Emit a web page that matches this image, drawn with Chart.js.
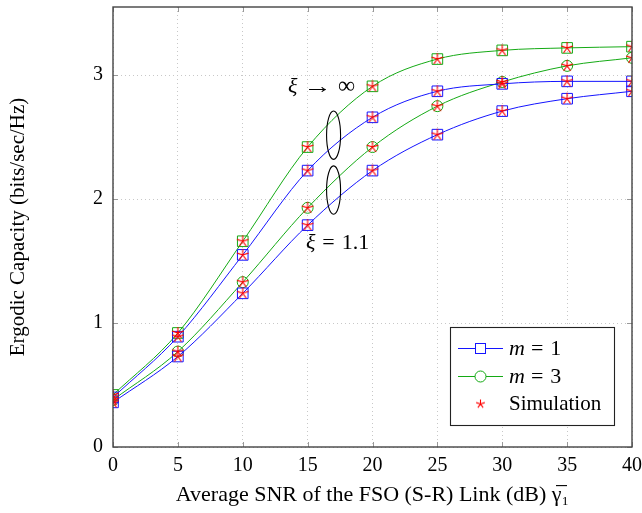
<!DOCTYPE html>
<html>
<head>
<meta charset="utf-8">
<script src="https://cdn.jsdelivr.net/npm/chart.js@4.4.1/dist/chart.umd.min.js"></script>
<style>
    html, body { margin: 0; padding: 0; background: #fff; }
    #wrap { width: 642px; height: 513px; }
</style>
</head>
<body>
<div id="wrap"><canvas id="capChart"></canvas></div>
<script>
// x axis: average SNR of the FSO link (dB)
const snrDb = [0, 5, 10, 15, 20, 25, 30, 35, 40];
const xTicks = [0, 5, 10, 15, 20, 25, 30, 35, 40];
const yTicks = [0, 1, 2, 3];

// analytical curves
const m1XiInf = [0.40, 0.89, 1.55, 2.23, 2.66, 2.87, 2.93, 2.95, 2.95];
const m3XiInf = [0.42, 0.92, 1.66, 2.42, 2.91, 3.13, 3.20, 3.22, 3.23];
const m1Xi11  = [0.36, 0.73, 1.24, 1.79, 2.23, 2.52, 2.71, 2.81, 2.87];
const m3Xi11  = [0.38, 0.77, 1.33, 1.93, 2.42, 2.75, 2.945, 3.075, 3.14];

// simulation points (they sit on top of the analytical markers)
const simM1XiInf = [0.40, 0.89, 1.55, 2.23, 2.66, 2.87, 2.93, 2.95, 2.95];
const simM3XiInf = [0.42, 0.92, 1.66, 2.42, 2.91, 3.13, 3.20, 3.22, 3.23];
const simM1Xi11  = [0.36, 0.73, 1.24, 1.79, 2.23, 2.52, 2.71, 2.81, 2.87];
const simM3Xi11  = [0.38, 0.77, 1.33, 1.93, 2.42, 2.75, 2.945, 3.075, 3.14];

const legendLabels = ['m = 1', 'm = 3', 'Simulation'];

const BLUE = 'rgb(20,20,255)';
const GREEN = 'rgb(20,170,20)';
const RED = 'rgb(255,0,0)';
const SERIF = '"Liberation Serif", "DejaVu Serif", serif';

// pgfplots style "star" mark: 5 spokes
function makeStar(r) {
    const s = Math.ceil(r * 2 + 2);
    const c = document.createElement('canvas');
    c.width = s; c.height = s;
    const g = c.getContext('2d');
    g.strokeStyle = RED;
    g.lineWidth = 1.1;
    g.beginPath();
    for (let k = 0; k < 5; k++) {
        const a = -Math.PI / 2 + k * 2 * Math.PI / 5;
        g.moveTo(s / 2, s / 2);
        g.lineTo(s / 2 + r * Math.cos(a), s / 2 + r * Math.sin(a));
    }
    g.stroke();
    return c;
}
const starImg = makeStar(6);
const starSmall = makeStar(4.5);

const pts = arr => snrDb.map((x, i) => ({ x: x, y: arr[i] }));

function curve(label, arr, color, style, radius) {
    return {
        label: label,
        data: pts(arr),
        showLine: true,
        borderColor: color,
        borderWidth: 1,
        backgroundColor: 'rgba(0,0,0,0)',
        pointStyle: style,
        pointRadius: radius,
        pointBorderColor: color,
        pointBackgroundColor: 'rgba(0,0,0,0)',
        pointBorderWidth: 1,
        cubicInterpolationMode: 'monotone',
        order: 2
    };
}
function sim(arr) {
    return {
        label: 'Simulation',
        data: pts(arr),
        showLine: false,
        pointStyle: starImg,
        pointRadius: 6,
        order: 1
    };
}

// draws pieces of a math-like label left to right with given gaps
function drawPieces(ctx, pieces, x, y) {
    pieces.forEach(p => {
        ctx.font = p.font;
        if (p.sx) {
            // stretch horizontally (long arrow like \to)
            ctx.save();
            ctx.translate(x, y);
            ctx.scale(p.sx, 1);
            ctx.fillText(p.t, 0, 0);
            ctx.restore();
            x += ctx.measureText(p.t).width * p.sx + p.gap;
        } else {
            ctx.fillText(p.t, x, y);
            x += ctx.measureText(p.t).width + p.gap;
        }
    });
}

// frame, inner tick marks, ellipses, text notes and legend box
const decorations = {
    id: 'decorations',
    afterDraw(chart) {
        const ctx = chart.ctx;
        const a = chart.chartArea;
        const xs = chart.scales.x, ys = chart.scales.y;
        ctx.save();

        // inner ticks
        ctx.strokeStyle = '#999';
        ctx.lineWidth = 1;
        ctx.beginPath();
        xTicks.forEach(v => {
            const px = Math.round(xs.getPixelForValue(v)) + 0.5;
            ctx.moveTo(px, a.bottom); ctx.lineTo(px, a.bottom - 5);
            ctx.moveTo(px, a.top); ctx.lineTo(px, a.top + 5);
        });
        yTicks.forEach(v => {
            const py = Math.round(ys.getPixelForValue(v)) + 0.5;
            ctx.moveTo(a.left, py); ctx.lineTo(a.left + 5, py);
            ctx.moveTo(a.right, py); ctx.lineTo(a.right - 5, py);
        });
        ctx.stroke();

        // frame
        ctx.strokeStyle = '#444';
        ctx.lineWidth = 1.4;
        ctx.strokeRect(a.left, a.top, a.right - a.left, a.bottom - a.top);

        // ellipses around the curve pairs
        ctx.strokeStyle = '#000';
        ctx.lineWidth = 1.1;
        const cx = xs.getPixelForValue(17.0);
        const rx = xs.getPixelForValue(17.54) - cx;
        const ry = ys.getPixelForValue(2.3) - ys.getPixelForValue(2.495);
        [2.516, 2.073].forEach(cy => {
            ctx.beginPath();
            ctx.ellipse(cx, ys.getPixelForValue(cy), rx, ry, 0, 0, Math.PI * 2);
            ctx.stroke();
        });

        // notes
        ctx.fillStyle = '#000';
        ctx.textAlign = 'left';
        ctx.textBaseline = 'middle';
        const mathF = 'italic 22px ' + SERIF;
        const romF = '22px ' + SERIF;
        drawPieces(ctx, [
            { t: 'ξ', font: mathF, gap: 6 },
            { t: '→', font: romF, gap: 6, sx: 1.3 },
            { t: '∞', font: '24px ' + SERIF, gap: 0 }
        ], xs.getPixelForValue(13.49), ys.getPixelForValue(2.906));
        drawPieces(ctx, [
            { t: 'ξ', font: mathF, gap: 7 },
            { t: '=', font: romF, gap: 7 },
            { t: '1.1', font: romF, gap: 0 }
        ], xs.getPixelForValue(14.87), ys.getPixelForValue(1.645));

        // legend box
        const bw = 164, bh = 98;
        const bx = a.right - 18 - bw, by = a.bottom - 22 - bh;
        ctx.fillStyle = '#fff';
        ctx.fillRect(bx, by, bw, bh);
        ctx.strokeStyle = '#222';
        ctx.lineWidth = 1.1;
        ctx.strokeRect(bx + 0.5, by + 0.5, bw, bh);

        const rows = [
            { dy: 21, color: BLUE, mark: 'rect' },
            { dy: 49, color: GREEN, mark: 'circle' },
            { dy: 76, color: null, mark: 'star' }
        ];
        const sx = bx + 8, mx = bx + 30, tx = bx + 59;
        rows.forEach((r, i) => {
            const ry0 = by + r.dy;
            if (r.color) {
                ctx.strokeStyle = r.color;
                ctx.lineWidth = 1;
                ctx.beginPath();
                ctx.moveTo(sx, ry0 + 0.5); ctx.lineTo(sx + 45, ry0 + 0.5);
                ctx.stroke();
                if (r.mark === 'rect') {
                    ctx.fillStyle = '#fff';
                    ctx.fillRect(mx - 5, ry0 - 4.5, 10, 10);
                    ctx.strokeRect(mx - 4.5, ry0 - 4.5, 10, 10);
                } else {
                    ctx.fillStyle = '#fff';
                    ctx.beginPath();
                    ctx.arc(mx + 0.5, ry0 + 0.5, 5.5, 0, Math.PI * 2);
                    ctx.fill();
                    ctx.stroke();
                }
            } else {
                ctx.drawImage(starSmall, mx - starSmall.width / 2 + 0.5, ry0 - starSmall.height / 2 + 1);
            }
            ctx.fillStyle = '#000';
            ctx.textAlign = 'left';
            if (i < 2) {
                const parts = legendLabels[i].split(' ');
                drawPieces(ctx, [
                    { t: parts[0], font: 'italic 22px ' + SERIF, gap: 6 },
                    { t: parts[1], font: '22px ' + SERIF, gap: 7 },
                    { t: parts[2], font: '22px ' + SERIF, gap: 0 }
                ], tx, ry0 + 1);
            } else {
                ctx.font = '21px ' + SERIF;
                ctx.fillText(legendLabels[i], tx, ry0 + 1);
            }
        });
        ctx.restore();
    }
};

const ctx = document.getElementById('capChart').getContext('2d');
new Chart(ctx, {
    type: 'scatter',
    data: {
        datasets: [
            curve('m = 1', m1XiInf, BLUE, 'rect', 7.5),
            curve('m = 3', m3XiInf, GREEN, 'rect', 7.5),
            curve('m = 1', m1Xi11, BLUE, 'rect', 7.5),
            curve('m = 3', m3Xi11, GREEN, 'circle', 5.5),
            sim(simM1XiInf),
            sim(simM3XiInf),
            sim(simM1Xi11),
            sim(simM3Xi11)
        ]
    },
    options: {
        responsive: true,
        maintainAspectRatio: false,
        animation: false,
        layout: { autoPadding: false, padding: { left: 0, right: 10, top: 7, bottom: 0 } },
        plugins: {
            legend: { display: false },
            tooltip: { enabled: false }
        },
        scales: {
            x: {
                type: 'linear',
                min: 0,
                max: 40,
                afterBuildTicks: s => { s.ticks = xTicks.map(v => ({ value: v })); },
                afterFit: s => { s.height = 66; s.paddingLeft = 0; s.paddingRight = 0; },
                grid: { color: '#c8c8c8', drawTicks: false },
                border: { display: false, dash: [1, 3] },
                ticks: { color: '#000', padding: 7, font: { family: SERIF, size: 20 } },
                title: {
                    display: true,
                    text: 'Average SNR of the FSO (S-R) Link (dB) γ̅₁',
                    color: '#000',
                    font: { family: SERIF, size: 22 },
                    padding: { top: 2, bottom: 5 }
                }
            },
            y: {
                min: 0,
                max: 3.55,
                afterBuildTicks: s => { s.ticks = yTicks.map(v => ({ value: v })); },
                afterFit: s => { s.width = 113; s.paddingTop = 0; s.paddingBottom = 0; },
                grid: { color: '#c8c8c8', drawTicks: false },
                border: { display: false, dash: [1, 3] },
                ticks: { color: '#000', padding: 10, font: { family: SERIF, size: 20 } },
                title: {
                    display: true,
                    text: 'Ergodic Capacity (bits/sec/Hz)',
                    color: '#000',
                    font: { family: SERIF, size: 21 },
                    padding: { top: 6, bottom: 0 }
                }
            }
        }
    },
    plugins: [decorations]
});
</script>
</body>
</html>
